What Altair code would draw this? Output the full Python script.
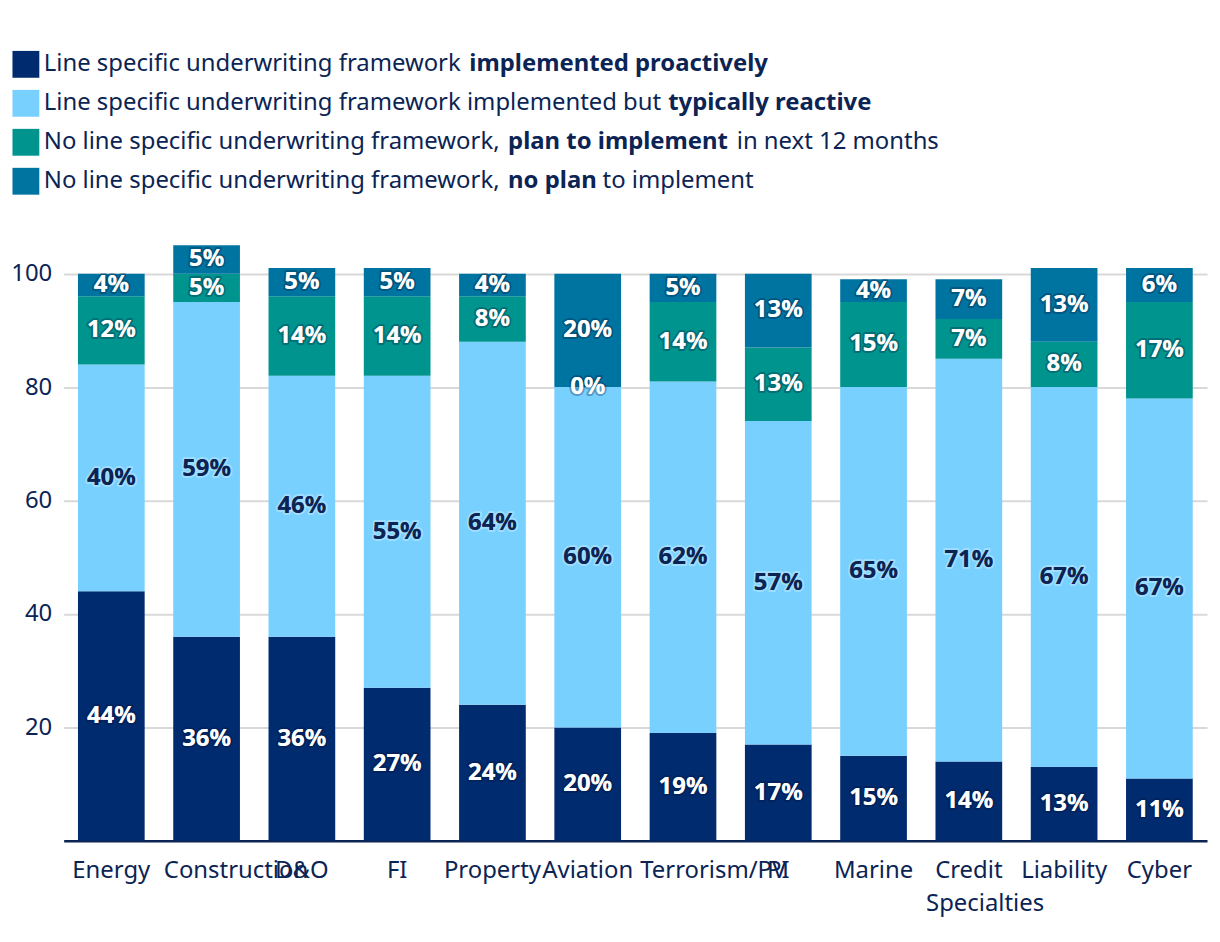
import altair as alt
import pandas as pd

# ---------------- data ----------------
categories = ["Energy", "Construction", "D&O", "FI", "Property", "Aviation",
              "Terrorism/PV", "PI", "Marine", "Credit Specialties", "Liability", "Cyber"]
proactive = [44, 36, 36, 27, 24, 20, 19, 17, 15, 14, 13, 11]
reactive = [40, 59, 46, 55, 64, 60, 62, 57, 65, 71, 67, 67]
plan = [12, 5, 14, 14, 8, 0, 14, 13, 15, 7, 8, 17]
no_plan = [4, 5, 5, 5, 4, 20, 5, 13, 4, 7, 13, 6]

series_names = ["Implemented proactively", "Implemented but typically reactive",
                "Plan to implement", "No plan"]
series_values = [proactive, reactive, plan, no_plan]

legend_pieces = [
    [("Line specific underwriting framework", "normal"), ("implemented proactively", "bold")],
    [("Line specific underwriting framework implemented but", "normal"), ("typically reactive", "bold")],
    [("No line specific underwriting framework,", "normal"), ("plan to implement", "bold"),
     ("in next 12 months", "normal")],
    [("No line specific underwriting framework,", "normal"), ("no plan", "bold"),
     ("to implement", "normal")],
]

y_ticks = [20, 40, 60, 80, 100]

# ---------------- styles ----------------
FONT = "Noto Sans"
FS = 24
TEXT = "#0B2454"
series_colors = ["#002B6F", "#78D0FF", "#00948F", "#0074A0"]
label_colors = ["#FFFFFF", TEXT, "#FFFFFF", "#FFFFFF"]
shadow_colors = ["#001033", "#FFFFFF", "#001033", "#001033"]
legend_x = [[-20, 408], [-20, 608], [-20, 447, 677], [-20, 447, 542]]
legend_y = [-182, -142.8, -103.6, -64.4]
W, H = 1150, 599
XLAB_Y0, XLAB_LH = 30, 34
WIDE_DX = -43

# ---------------- tables ----------------
rows = []
for ci, cat in enumerate(categories):
    start = 0
    for si, name in enumerate(series_names):
        v = series_values[si][ci]
        rows.append(dict(cat=cat, series=name, idx=si, value=v, start=start,
                         end=start + v, mid=start + v / 2, label=f"{v}%",
                         tcolor=label_colors[si], scolor=shadow_colors[si]))
        start += v
df = pd.DataFrame(rows)

xl_rows = []
for cat in categories:
    for li, line in enumerate(cat.split(" ")):
        xl_rows.append(dict(cat=cat, line=li, text=line, wide=len(line) > 10))
xl = pd.DataFrame(xl_rows)

x_enc = alt.X("cat:N", sort=categories,
              scale=alt.Scale(paddingInner=0.3, paddingOuter=0.15),
              axis=alt.Axis(title=None, labels=False, ticks=False, grid=False,
                            domainColor=TEXT, domainWidth=2.5))
y_enc = alt.Y("start:Q", scale=alt.Scale(domain=[0, 105], nice=False, zero=True),
              axis=alt.Axis(title=None, values=y_ticks, ticks=False,
                            domain=False, labelFont=FONT, labelFontSize=FS,
                            labelColor=TEXT, labelPadding=12,
                            gridColor="#D9D9D9", gridWidth=2))

base = alt.Chart(df)
bars = base.mark_bar().encode(
    x=x_enc, y=y_enc, y2="end:Q",
    color=alt.Color("series:N", scale=alt.Scale(domain=series_names, range=series_colors),
                    legend=None),
)
shadow = base.mark_text(font=FONT, fontSize=FS, fontWeight="bold", baseline="middle",
                        strokeWidth=4, strokeOpacity=0.3, strokeJoin="round").encode(
    x=alt.X("cat:N", sort=categories), y=alt.Y("mid:Q"), text="label:N",
    color=alt.Color("tcolor:N", scale=None),
    stroke=alt.Stroke("scolor:N", scale=None),
)
labels = base.mark_text(font=FONT, fontSize=FS, fontWeight="bold", baseline="middle").encode(
    x=alt.X("cat:N", sort=categories), y=alt.Y("mid:Q"), text="label:N",
    color=alt.Color("tcolor:N", scale=None),
)

layers = [bars, shadow, labels]

# category labels (wide words overflow to the right from the band's left edge)
for li in sorted(xl["line"].unique()):
    for wide in (False, True):
        sub = xl[(xl["line"] == li) & (xl["wide"] == wide)]
        if sub.empty:
            continue
        layers.append(alt.Chart(sub).mark_text(
            font=FONT, fontSize=FS, color=TEXT, baseline="middle",
            align="left" if wide else "center", dx=WIDE_DX if wide else 0).encode(
            x=alt.X("cat:N", sort=categories), text="text:N",
            y=alt.value(H + XLAB_Y0 + li * XLAB_LH)))

# custom legend with mixed-weight text
one = alt.Data(values=[{"k": 1}])
for r, pieces in enumerate(legend_pieces):
    layers.append(alt.Chart(one).mark_square(size=27 * 27, opacity=1,
                                             color=series_colors[r]).encode(
        x=alt.value(-38), y=alt.value(legend_y[r])))
    for p, (txt, weight) in enumerate(pieces):
        layers.append(alt.Chart(one).mark_text(
            text=txt, font=FONT, fontSize=FS, fontWeight=weight, color=TEXT,
            align="left", baseline="middle").encode(
            x=alt.value(legend_x[r][p]), y=alt.value(legend_y[r])))

chart = alt.layer(*layers).properties(
    width=W, height=H,
    padding={"left": 2, "top": 40, "right": 5, "bottom": 5},
    background="white",
).configure_view(stroke=None)

chart.save("out.html", embed_options={"renderer": "svg", "actions": False})
